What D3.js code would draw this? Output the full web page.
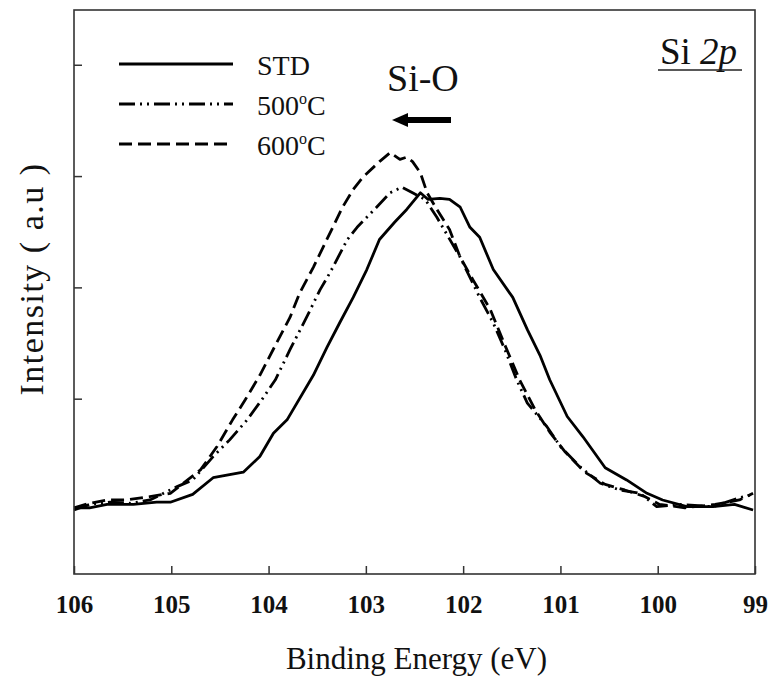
<!DOCTYPE html>
<html>
<head>
<meta charset="utf-8">
<script src="https://cdn.jsdelivr.net/npm/d3@7"></script>
<style>
  html, body { margin: 0; padding: 0; background: #fff; }
  svg text { font-family: "Liberation Serif", "Times New Roman", serif; fill: #111; }
</style>
</head>
<body>
<svg id="chart" width="769" height="677"></svg>
<script>
// ---- Data (Binding energy eV, normalized intensity a.u.) ----
const xTicks = [106, 105, 104, 103, 102, 101, 100, 99];
const yTicks = [1, 2, 3, 4];
const seriesNames = ["STD", "500\u00B0C", "600\u00B0C"];

const stdData = [
  [106.00, 0.02], [105.84, 0.02], [105.66, 0.05], [105.39, 0.05], [105.15, 0.07],
  [105.01, 0.07], [104.78, 0.14], [104.57, 0.29], [104.26, 0.34], [104.09, 0.48],
  [103.95, 0.69], [103.81, 0.81], [103.54, 1.21], [103.40, 1.46], [103.27, 1.68],
  [103.13, 1.91], [102.99, 2.16], [102.86, 2.43], [102.70, 2.59], [102.58, 2.70],
  [102.44, 2.85], [102.36, 2.79], [102.24, 2.80], [102.14, 2.79], [102.03, 2.72],
  [101.93, 2.54], [101.83, 2.45], [101.69, 2.16], [101.49, 1.91], [101.34, 1.62],
  [101.21, 1.39], [101.11, 1.17], [100.93, 0.84], [100.77, 0.66], [100.54, 0.38],
  [100.32, 0.27], [100.11, 0.15], [99.95, 0.09], [99.70, 0.03], [99.43, 0.03],
  [99.21, 0.05], [99.02, 0.00]
];

const t500Data = [
  [106.00, 0.00], [105.84, 0.05], [105.63, 0.07], [105.42, 0.06], [105.22, 0.09],
  [104.94, 0.21], [104.78, 0.27], [104.57, 0.48], [104.40, 0.63], [104.22, 0.81],
  [104.07, 0.99], [103.93, 1.17], [103.78, 1.44], [103.61, 1.73], [103.47, 1.98],
  [103.37, 2.13], [103.19, 2.43], [103.09, 2.54], [102.89, 2.72], [102.75, 2.85],
  [102.63, 2.90], [102.52, 2.85], [102.39, 2.79], [102.27, 2.63], [102.03, 2.27],
  [101.83, 1.91], [101.69, 1.68], [101.57, 1.44], [101.45, 1.17], [101.34, 0.96],
  [101.14, 0.75], [101.00, 0.57], [100.80, 0.39], [100.59, 0.24], [100.39, 0.18],
  [100.18, 0.15], [100.01, 0.03], [99.77, 0.05], [99.43, 0.03], [99.16, 0.11],
  [99.02, 0.14]
];

const t600Data = [
  [106.00, 0.02], [105.84, 0.06], [105.66, 0.09], [105.46, 0.09], [105.22, 0.12],
  [105.01, 0.15], [104.70, 0.36], [104.53, 0.57], [104.37, 0.81], [104.24, 0.99],
  [104.09, 1.21], [103.93, 1.48], [103.78, 1.73], [103.68, 1.95], [103.54, 2.18],
  [103.44, 2.36], [103.34, 2.54], [103.24, 2.72], [103.13, 2.88], [103.03, 2.99],
  [102.86, 3.13], [102.75, 3.21], [102.65, 3.15], [102.58, 3.17], [102.52, 3.13],
  [102.44, 3.03], [102.37, 2.85], [102.27, 2.70], [102.14, 2.52], [102.03, 2.27],
  [101.90, 2.07], [101.72, 1.80], [101.57, 1.48], [101.42, 1.17], [101.26, 0.90],
  [101.11, 0.70], [100.95, 0.52], [100.75, 0.34], [100.54, 0.23], [100.34, 0.18],
  [100.13, 0.12], [99.98, 0.05], [99.72, 0.02], [99.41, 0.05], [99.16, 0.09],
  [99.02, 0.15]
];

// ---- Layout ----
const FONT = '"Liberation Serif", "Times New Roman", serif';
const svg = d3.select("#chart");
const L = 74, R = 755, T = 10, B = 574;

const x = d3.scaleLinear().domain([106, 99]).range([L, R]);
const y = d3.scaleLinear().domain([-0.575, 4.492]).range([B, T]);

const styles = [
  { data: stdData, dash: null },
  { data: t500Data, dash: "16,5,2,5,2,5" },
  { data: t600Data, dash: "13,6" }
];

// Curves
const line = d3.line().x(d => x(d[0])).y(d => y(d[1])).curve(d3.curveLinear);
const curves = svg.append("g");
styles.forEach(s => {
  curves.append("path")
    .attr("d", line(s.data))
    .attr("fill", "none")
    .attr("stroke", "#000")
    .attr("stroke-width", 2.8)
    .attr("stroke-linejoin", "round")
    .attr("stroke-dasharray", s.dash);
});

// Frame
svg.append("rect")
  .attr("x", L).attr("y", T).attr("width", R - L).attr("height", B - T)
  .attr("fill", "none").attr("stroke", "#333").attr("stroke-width", 1.6);

// X axis (ticks inward)
const xAxis = svg.append("g")
  .attr("transform", `translate(0,${B})`)
  .call(d3.axisBottom(x).tickValues(xTicks).tickSize(-8).tickPadding(21).tickFormat(d3.format("d")));
xAxis.select(".domain").remove();
xAxis.selectAll(".tick line").attr("stroke", "#333").attr("stroke-width", 1.5);
xAxis.selectAll(".tick text")
  .style("font-family", FONT)
  .style("font-size", "25px").style("font-weight", "bold").attr("fill", "#111");

// Y axis (ticks inward, no labels)
const yAxis = svg.append("g")
  .attr("transform", `translate(${L},0)`)
  .call(d3.axisRight(y).tickValues(yTicks).tickSize(8).tickFormat(""));
yAxis.select(".domain").remove();
yAxis.selectAll(".tick line").attr("stroke", "#333").attr("stroke-width", 1.5);

// Axis titles
svg.append("text")
  .attr("x", (L + R) / 2 + 2).attr("y", 669)
  .attr("text-anchor", "middle")
  .style("font-size", "31px")
  .text("Binding Energy (eV)");

svg.append("text")
  .attr("transform", "translate(43,279) rotate(-90)")
  .attr("text-anchor", "middle")
  .style("font-size", "34px")
  .style("letter-spacing", "1.5px")
  .text("Intensity ( a.u )");

// Legend
const legY = [64, 104, 144];
const leg = svg.append("g");
styles.forEach((s, i) => {
  leg.append("line")
    .attr("x1", 119).attr("x2", 233).attr("y1", legY[i]).attr("y2", legY[i])
    .attr("stroke", "#000").attr("stroke-width", 3)
    .attr("stroke-dasharray", s.dash);
});
const legText = leg.selectAll("text.lt").data(seriesNames).enter().append("text")
  .attr("class", "lt")
  .attr("x", 257).attr("y", (d, i) => legY[i] + 11)
  .style("font-size", "28px");
legText.each(function(d) {
  const t = d3.select(this);
  if (d === "STD") { t.text("STD"); return; }
  const num = d.replace("\u00B0C", "");
  t.append("tspan").text(num);
  t.append("tspan").attr("dy", -11).style("font-size", "16px").text("o");
  t.append("tspan").attr("dy", 11).text("C");
});

// Si-O annotation with arrow
svg.append("text")
  .attr("x", 387).attr("y", 91)
  .style("font-size", "38px")
  .text("Si-O");
svg.append("line")
  .attr("x1", 451).attr("x2", 404).attr("y1", 120).attr("y2", 120)
  .attr("stroke", "#000").attr("stroke-width", 6);
svg.append("path")
  .attr("d", "M392,120 L408,113 L408,127 Z")
  .attr("fill", "#000");

// Panel title "Si 2p"
const title = svg.append("text")
  .attr("x", 660).attr("y", 64)
  .style("font-size", "37px");
title.append("tspan").text("Si ");
title.append("tspan").style("font-style", "italic").text("2p");
svg.append("line")
  .attr("x1", 658).attr("x2", 742).attr("y1", 70).attr("y2", 70)
  .attr("stroke", "#222").attr("stroke-width", 1.6);
</script>
</body>
</html>
